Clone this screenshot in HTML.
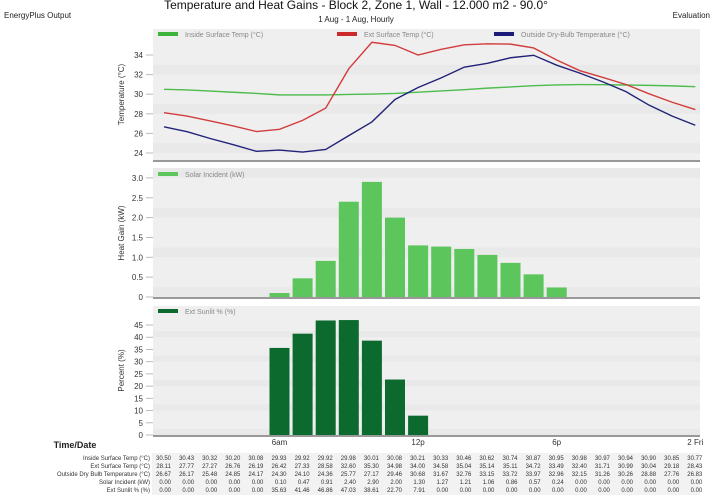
<!DOCTYPE html>
<html><head><meta charset="utf-8"><style>
body{margin:0;background:#fff;font-family:"Liberation Sans",sans-serif;}
svg text{font-family:"Liberation Sans",sans-serif;}
</style></head><body>
<svg id="c" width="713" height="498" xmlns="http://www.w3.org/2000/svg">
<text x="356" y="9" font-size="12" text-anchor="middle" fill="#111">Temperature and Heat Gains - Block 2, Zone 1, Wall - 12.000 m2 - 90.0°</text>
<text x="356" y="22" font-size="8" text-anchor="middle" fill="#222">1 Aug - 1 Aug, Hourly</text>
<text x="4" y="18" font-size="8" fill="#222">EnergyPlus Output</text>
<text x="710" y="18" font-size="8" text-anchor="end" fill="#222">Evaluation</text>
<g id="g"></g>
</svg>
<script>
const hours=[0,1,2,3,4,5,6,7,8,9,10,11,12,13,14,15,16,17,18,19,20,21,22,23];
const insideTemp=[30.50,30.43,30.32,30.20,30.08,29.93,29.92,29.92,29.98,30.01,30.08,30.21,30.33,30.46,30.62,30.74,30.87,30.95,30.98,30.97,30.94,30.90,30.85,30.77];
const extTemp=[28.11,27.77,27.27,26.76,26.19,26.42,27.33,28.58,32.60,35.30,34.98,34.00,34.58,35.04,35.14,35.11,34.72,33.49,32.40,31.71,30.99,30.04,29.18,28.43];
const outTemp=[26.67,26.17,25.48,24.85,24.17,24.30,24.10,24.36,25.77,27.17,29.46,30.68,31.67,32.76,33.15,33.72,33.97,32.96,32.15,31.26,30.26,28.88,27.76,26.83];
const solar=[0,0,0,0,0,0.10,0.47,0.91,2.40,2.90,2.00,1.30,1.27,1.21,1.06,0.86,0.57,0.24,0,0,0,0,0,0];
const sunlit=[0,0,0,0,0,35.63,41.46,46.86,47.03,38.61,22.70,7.91,0,0,0,0,0,0,0,0,0,0,0,0];
const tempTicks=[24,26,28,30,32,34];
const solarTicks=[0,0.5,1.0,1.5,2.0,2.5,3.0];
const pctTicks=[0,5,10,15,20,25,30,35,40,45];
const timeLabels=[[5,"6am"],[11,"12p"],[17,"6p"],[23,"2 Fri"]];
const NS="http://www.w3.org/2000/svg";
const g=document.getElementById('g');
function mk(t,a,p){const e=document.createElementNS(NS,t);for(const k in a)e.setAttribute(k,a[k]);(p||g).appendChild(e);return e;}
const X=h=>164+h*23.1;
const yT=v=>153-(v-24)*9.8;
const yS=v=>297-v*39.7;
const yP=v=>435-v*2.444;
function panel(name,top,bot,ticks,yf,fmt,title){
 let r=mk('rect',{x:153,y:top,width:547,height:bot-top,fill:'#efefef'});
 
 
 ticks.forEach((t,i)=>{const y=yf(t);
  if(i%2==0)mk('rect',{x:153,y:y-(yf(ticks[0])-yf(ticks[1]))/2,width:547,height:(yf(ticks[0])-yf(ticks[1]))/2,fill:'#e9e9e9'});
  mk('line',{x1:146,x2:153,y1:y,y2:y,stroke:'#bbb'});
  const tx=mk('text',{x:143,y:y+3,'font-size':8,'text-anchor':'end',fill:'#333'});tx.textContent=fmt(t);
  
  
 });
 mk('rect',{x:153,y:bot,width:547,height:2,fill:'#999'});
 const yt=mk('text',{x:0,y:0,'font-size':8,'text-anchor':'middle',fill:'#333',transform:`translate(124,${(top+bot)/2}) rotate(-90)`});yt.textContent=title;
 
 
}
function legend(name,x,y,color,label){
 const l=mk('rect',{x:x,y:y-2,width:20,height:4,fill:color});
 
 
 const t=mk('text',{x:x+27,y:y+3,'font-size':7,fill:'#888'});t.textContent=label;
 
 
}
panel('temperature',29,160,tempTicks,yT,v=>v,'Temperature (°C)');
panel('heat-gain',169,297,solarTicks,yS,v=>v==0?'0':v.toFixed(1),'Heat Gain (kW)');
panel('percent',306,435,pctTicks,yP,v=>v,'Percent (%)');
legend('inside-temp',158,34,'#3cb43c','Inside Surface Temp (°C)');
legend('ext-temp',337,34,'#cc2a2a','Ext Surface Temp (°C)');
legend('outside-temp',494,34,'#1a1a7a','Outside Dry-Bulb Temperature (°C)');
legend('solar',158,174,'#5cc65c','Solar Incident (kW)');
legend('sunlit',158,311,'#0d6a2e','Ext Sunlit % (%)');
[[insideTemp,'#4cbc4c','inside-temp-line'],[extTemp,'#d23c3c','ext-temp-line'],[outTemp,'#22227a','outside-temp-line']].forEach(([d,c,n])=>{
 const p=mk('polyline',{points:d.map((v,i)=>X(hours[i])+','+yT(v)).join(' '),fill:'none',stroke:c,'stroke-width':1.4});
 
 
});
solar.forEach((v,i)=>{if(v<=0)return;
 const b=mk('rect',{x:X(hours[i])-10,y:yS(v),width:20,height:yS(0)-yS(v),fill:'#5cc65c'});
 
 
});
sunlit.forEach((v,i)=>{if(v<=0)return;
 const b=mk('rect',{x:X(hours[i])-10,y:yP(v),width:20,height:yP(0)-yP(v),fill:'#0d6a2e'});
 
 
});
const td=mk('text',{x:75,y:448,'font-size':9,'font-weight':'bold','text-anchor':'middle',fill:'#222'});td.textContent='Time/Date';


timeLabels.forEach(([h,l])=>{const t=mk('text',{x:X(h),y:445,'font-size':8,'text-anchor':'middle',fill:'#333'});t.textContent=l;
 
 
});
const rows=[['Inside Surface Temp (°C)',insideTemp],['Ext Surface Temp (°C)',extTemp],['Outside Dry Bulb Temperature (°C)',outTemp],['Solar Incident (kW)',solar],['Ext Sunlit % (%)',sunlit]];
mk('rect',{x:152,y:453,width:548,height:42,fill:'#f2f2f2'});
rows.forEach(([lab,d],r)=>{const y=460+r*8;
 const t=mk('text',{x:150,y:y,'font-size':6,'text-anchor':'end',fill:'#333'});t.textContent=lab;
 
 
 d.forEach((v,i)=>{const c=mk('text',{x:X(hours[i])+7,y:y,'font-size':6,'text-anchor':'end',fill:'#333'});c.textContent=v.toFixed(2);
  
  
 });
});
</script>
</body></html>
